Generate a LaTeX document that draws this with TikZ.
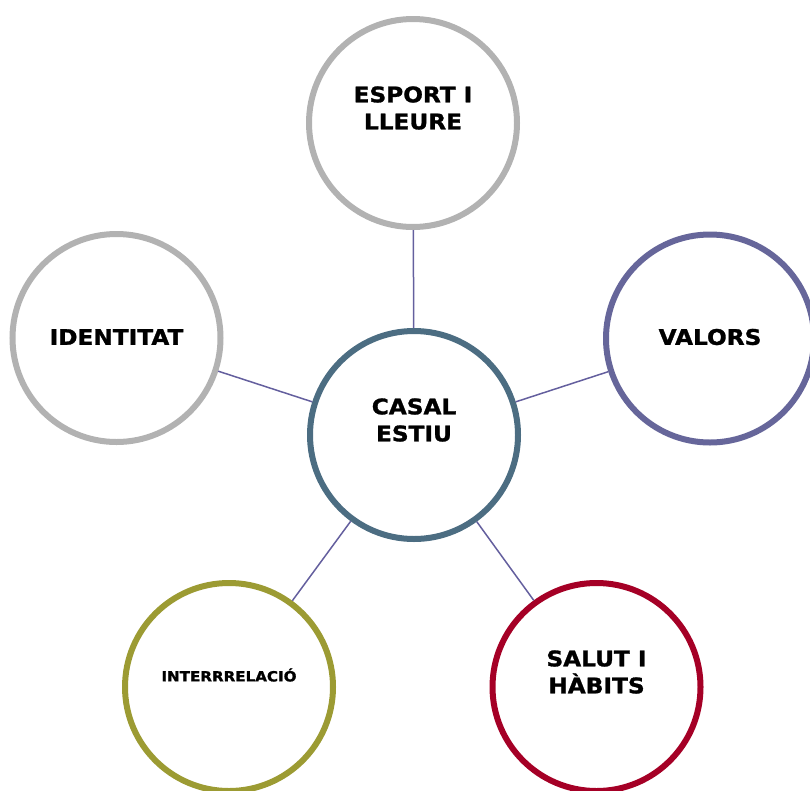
\documentclass[tikz,border=0pt]{standalone}
\usepackage{fontspec}
\setmainfont{DejaVu Sans}[FakeStretch=1.08,BoldFeatures={FakeBold=1.3}]
\definecolor{cblue}{HTML}{4C6D82}
\definecolor{cgray}{HTML}{B2B2B2}
\definecolor{cpurple}{HTML}{66669A}
\definecolor{colive}{HTML}{9C9B33}
\definecolor{cred}{HTML}{A50026}
\definecolor{cline}{HTML}{645F9E}
\tikzset{
  bubble/.style={circle, draw=#1, line width=6pt, fill=white, minimum size=208pt, inner sep=0pt},
  lbl/.style={font=\bfseries\fontsize{21.5}{27}\selectfont, align=center, text=black, inner sep=0pt},
  slbl/.style={font=\bfseries\fontsize{14}{18}\selectfont, align=center, text=black, inner sep=0pt},
  link/.style={draw=cline, line width=1.5pt}
}
\begin{document}
\begin{tikzpicture}[x=1pt,y=-1pt]
\useasboundingbox (0,0) rectangle (810,790);
\node[bubble=cblue] (c) at (414,435) {};
\node[bubble=cgray] (t) at (413,123) {};
\node[bubble=cgray] (l) at (116.5,338) {};
\node[bubble=cpurple] (r) at (710,338.5) {};
\node[bubble=colive] (bl) at (229,687) {};
\node[bubble=cred] (br) at (596.5,687) {};
\draw[link] (c) -- (t);
\draw[link] (c) -- (l);
\draw[link] (c) -- (r);
\draw[link] (c) -- (bl);
\draw[link] (c) -- (br);
\node[lbl] (tc) at (413,108) {ESPORT I\\LLEURE};
\node[lbl] (cc) at (414,420) {CASAL\\ESTIU};
\node[lbl] (lc) at (116.5,337) {IDENTITAT};
\node[lbl] (rc) at (710,337) {VALORS};
\node[slbl] (blc) at (229,675) {INTERRRELACIÓ};
\node[lbl] (brc) at (596.5,672) {SALUT I\\HÀBITS};
\end{tikzpicture}
\end{document}
